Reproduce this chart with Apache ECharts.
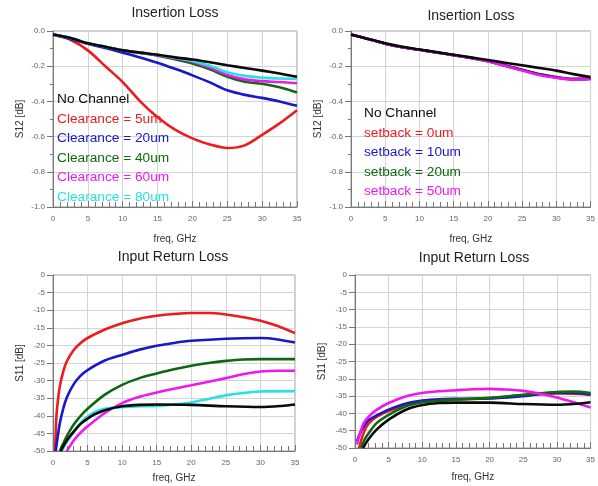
<!DOCTYPE html>
<html>
<head>
<meta charset="utf-8">
<script src="https://cdn.jsdelivr.net/npm/echarts@6/dist/echarts.min.js"></script>
<style>
    html, body { margin: 0; padding: 0; background: #fff; }
    #mychart { width: 598px; height: 486px; }
</style>
</head>
<body>
<div id="mychart"></div>
<script>
// insertion loss, S12 [dB], same freq points for every curve
var IL_FREQ = [0, 2.5, 5, 7.5, 10, 12.5, 15, 17.5, 20, 22.5, 25, 27.5, 30, 32.5, 35]

var il1_noChannel = [-0.02, -0.04, -0.07, -0.09, -0.11, -0.123, -0.135, -0.15, -0.162, -0.178, -0.195, -0.21, -0.225, -0.242, -0.26]
var il1_c5 = [-0.02, -0.05, -0.11, -0.2, -0.29, -0.4, -0.49, -0.56, -0.61, -0.645, -0.665, -0.65, -0.59, -0.525, -0.45]
var il1_c20 = [-0.02, -0.045, -0.073, -0.097, -0.123, -0.15, -0.18, -0.215, -0.252, -0.292, -0.337, -0.363, -0.38, -0.4, -0.425]
var il1_c40 = [-0.02, -0.04, -0.07, -0.09, -0.11, -0.125, -0.14, -0.16, -0.185, -0.218, -0.26, -0.288, -0.3, -0.32, -0.35]
var il1_c60 = [-0.02, -0.04, -0.07, -0.09, -0.11, -0.123, -0.137, -0.155, -0.175, -0.208, -0.25, -0.275, -0.285, -0.29, -0.297]
var il1_c80 = [-0.02, -0.04, -0.07, -0.09, -0.11, -0.123, -0.135, -0.152, -0.17, -0.198, -0.235, -0.255, -0.265, -0.27, -0.272]

var il2_noChannel = [-0.02, -0.045, -0.07, -0.09, -0.105, -0.12, -0.135, -0.15, -0.165, -0.18, -0.195, -0.21, -0.225, -0.245, -0.262]
var il2_s0 = [-0.02, -0.045, -0.072, -0.092, -0.107, -0.122, -0.137, -0.152, -0.17, -0.195, -0.22, -0.245, -0.262, -0.272, -0.27]
var il2_s10 = [-0.02, -0.045, -0.072, -0.092, -0.107, -0.122, -0.137, -0.153, -0.172, -0.197, -0.222, -0.247, -0.264, -0.274, -0.272]
var il2_s20 = [-0.02, -0.045, -0.072, -0.092, -0.107, -0.122, -0.137, -0.152, -0.171, -0.196, -0.221, -0.246, -0.263, -0.273, -0.271]
var il2_s50 = [-0.02, -0.045, -0.072, -0.092, -0.107, -0.122, -0.137, -0.153, -0.172, -0.198, -0.224, -0.25, -0.266, -0.276, -0.273]

// input return loss, S11 [dB], [freq, dB] (curves start where they enter the -50 dB floor)
var rl1_noChannel = [[1.1, -50], [2, -47], [3, -44.5], [4, -42.3], [5, -40.8], [6, -39.6], [7.5, -38.4], [10, -37.3], [12.5, -36.9], [15, -36.8], [20, -36.9], [25, -37.3], [30, -37.5], [33, -37.2], [35, -36.8]]
var rl1_c5 = [[0.3, -50], [0.5, -40], [0.75, -35], [1, -31.5], [1.5, -27.3], [2, -24.5], [3, -21.3], [4, -19.3], [5, -17.9], [7.5, -15.5], [10, -13.7], [12.5, -12.4], [15, -11.6], [17.5, -11.1], [20, -10.8], [22.5, -10.8], [25, -11.2], [27.5, -12], [30, -13], [32.5, -14.5], [35, -16.5]]
var rl1_c20 = [[0.4, -50], [0.6, -47], [1, -42], [1.5, -37.8], [2, -34.8], [3, -31], [4, -28.6], [5, -27], [7.5, -24.3], [10, -22.7], [12.5, -21.2], [15, -20.1], [17.5, -19.3], [20, -18.7], [25, -18.1], [30, -17.9], [32.5, -18.3], [35, -19.2]]
var rl1_c40 = [[1, -50], [1.5, -47.8], [2, -45.8], [3, -42.5], [4, -40], [5, -38], [7.5, -34], [10, -31.2], [12.5, -29.3], [15, -28], [17.5, -26.8], [20, -25.8], [22.5, -25], [25, -24.4], [27.5, -24], [30, -23.9], [35, -23.9]]
var rl1_c60 = [[2, -50], [3, -47], [4, -44.8], [5, -43], [7.5, -39.2], [10, -36.4], [12.5, -34.6], [15, -33.4], [17.5, -32.3], [20, -31.3], [22.5, -30.3], [25, -29.3], [27.5, -28.2], [30, -27.4], [32.5, -27.2], [35, -27.2]]
var rl1_c80 = [[1.3, -50], [2, -47.5], [3, -44.5], [4, -42], [5, -40.2], [6, -39], [7.5, -38], [10, -37.5], [12.5, -37.3], [15, -37.2], [17.5, -36.8], [20, -36.2], [22.5, -35.2], [25, -34.2], [27.5, -33.5], [30, -33.1], [35, -33]]

var rl2_noChannel = [[1.2, -50], [2, -47.5], [3.2, -44.7], [5, -41.8], [7.5, -39], [10, -37.6], [12.5, -37], [15, -36.9], [20, -36.9], [25, -37.3], [30, -37.5], [33, -37.2], [35, -36.8]]
var rl2_s0 = [[0.6, -50], [1.3, -45.5], [2, -43], [3.2, -41], [5, -39.3], [7.5, -37.6], [10, -36.6], [12.5, -36.2], [15, -36], [20, -35.6], [25, -34.8], [30, -34.2], [35, -34.5]]
var rl2_s10 = [[0.3, -48], [0.7, -46], [1.3, -43.8], [2, -42], [3.2, -40.6], [5, -38.9], [7.5, -37.2], [10, -36.3], [12.5, -35.9], [15, -35.8], [20, -35.7], [25, -35], [30, -34], [32.5, -34], [35, -34.6]]
var rl2_s20 = [[0.9, -50], [1.5, -47.3], [2, -45.8], [3.2, -42.8], [5, -40.4], [7.5, -38], [10, -36.8], [12.5, -36.3], [15, -36], [20, -35.5], [25, -34.6], [30, -33.8], [32.5, -33.7], [35, -34.1]]
var rl2_s50 = [[0.3, -49], [0.7, -46], [1.3, -42.8], [2, -41], [3.2, -39], [5, -37], [7.5, -35.1], [10, -34.1], [12.5, -33.6], [15, -33.3], [17.5, -33], [20, -32.9], [22.5, -33.1], [25, -33.5], [27.5, -34.3], [30, -35.4], [32.5, -36.8], [35, -38.3]]

var CLEARANCE_NAMES = ['No Channel', 'Clearance = 5um', 'Clearance = 20um', 'Clearance = 40um', 'Clearance = 60um', 'Clearance = 80um']
var SETBACK_NAMES = ['No Channel', 'setback = 0um', 'setback = 10um', 'setback = 20um', 'setback = 50um']

var C_BLACK = '#0a0a0a'
var C_RED = '#ec1c1c'
var C_BLUE = '#1818c8'
var C_GREEN = '#0f680f'
var C_MAGENTA = '#ee18ee'
var C_CYAN = '#26e2e2'

var FONT = 'Arial, "Liberation Sans", sans-serif'

function pairs(xs, ys) {
    var out = []
    for (var i = 0; i < xs.length; i++) {
        out.push([xs[i], ys[i]])
    }
    return out
}

function line(name, color, data, idx) {
    return {
        name: name,
        type: 'line',
        xAxisIndex: idx,
        yAxisIndex: idx,
        data: data,
        smooth: 0.3,
        symbol: 'none',
        lineStyle: { color: color, width: 2.6 },
        itemStyle: { color: color },
        emphasis: { disabled: true },
    }
}

var grids = [
    { left: 53, top: 31, width: 244, height: 176 },
    { left: 351, top: 31, width: 240, height: 176 },
    { left: 53, top: 275, width: 242, height: 176 },
    { left: 355, top: 275, width: 239, height: 173 },
]

function xAxis(idx, gap) {
    return {
        type: 'value',
        gridIndex: idx,
        min: 0,
        max: 35,
        interval: 5,
        name: 'freq, GHz',
        nameLocation: 'middle',
        nameGap: gap,
        nameTextStyle: { fontFamily: FONT, fontSize: 10, color: '#333' },
        axisLine: { onZero: false, lineStyle: { color: '#777' } },
        axisTick: { inside: true, length: 6, lineStyle: { color: '#777' } },
        minorTick: { show: true, splitNumber: 5, length: 5, lineStyle: { color: '#777' } },
        axisLabel: { fontFamily: FONT, fontSize: 8, color: '#666', margin: 8 },
        splitLine: { show: true, lineStyle: { color: '#d4d4d4' } },
    }
}

function yAxis(idx, name, min, step, digits) {
    return {
        type: 'value',
        gridIndex: idx,
        min: min,
        max: 0,
        interval: step,
        name: name,
        nameLocation: 'middle',
        nameGap: 28,
        nameTextStyle: { fontFamily: FONT, fontSize: 10, color: '#333' },
        axisLine: { show: true, onZero: false, lineStyle: { color: '#777' } },
        axisTick: { show: true, length: 6, lineStyle: { color: '#777' } },
        minorTick: { show: digits > 0, splitNumber: 2, length: 3, lineStyle: { color: '#777' } },
        axisLabel: {
            fontFamily: FONT, fontSize: 8, color: '#666', margin: 8,
            formatter: function (v) { return v.toFixed(digits) }
        },
        splitLine: { show: true, lineStyle: { color: '#d4d4d4' } },
    }
}

function legendData(names, colors) {
    var d = []
    for (var i = 0; i < names.length; i++) {
        d.push({ name: names[i], textStyle: { color: colors[i] } })
    }
    return d
}

function title(text, x, y) {
    return {
        text: text,
        left: x,
        top: y,
        textAlign: 'center',
        padding: 0,
        textStyle: { fontFamily: FONT, fontSize: 14, fontWeight: 'normal', color: '#222' },
    }
}

var series = [
    line(CLEARANCE_NAMES[1], C_RED, pairs(IL_FREQ, il1_c5), 0),
    line(CLEARANCE_NAMES[2], C_BLUE, pairs(IL_FREQ, il1_c20), 0),
    line(CLEARANCE_NAMES[3], C_GREEN, pairs(IL_FREQ, il1_c40), 0),
    line(CLEARANCE_NAMES[4], C_MAGENTA, pairs(IL_FREQ, il1_c60), 0),
    line(CLEARANCE_NAMES[5], C_CYAN, pairs(IL_FREQ, il1_c80), 0),
    line(CLEARANCE_NAMES[0], C_BLACK, pairs(IL_FREQ, il1_noChannel), 0),

    line(SETBACK_NAMES[1], C_RED, pairs(IL_FREQ, il2_s0), 1),
    line(SETBACK_NAMES[3], C_GREEN, pairs(IL_FREQ, il2_s20), 1),
    line(SETBACK_NAMES[2], C_BLUE, pairs(IL_FREQ, il2_s10), 1),
    line(SETBACK_NAMES[4], C_MAGENTA, pairs(IL_FREQ, il2_s50), 1),
    line(SETBACK_NAMES[0], C_BLACK, pairs(IL_FREQ, il2_noChannel), 1),

    line(CLEARANCE_NAMES[1], C_RED, rl1_c5, 2),
    line(CLEARANCE_NAMES[2], C_BLUE, rl1_c20, 2),
    line(CLEARANCE_NAMES[3], C_GREEN, rl1_c40, 2),
    line(CLEARANCE_NAMES[4], C_MAGENTA, rl1_c60, 2),
    line(CLEARANCE_NAMES[5], C_CYAN, rl1_c80, 2),
    line(CLEARANCE_NAMES[0], C_BLACK, rl1_noChannel, 2),

    line(SETBACK_NAMES[1], C_RED, rl2_s0, 3),
    line(SETBACK_NAMES[2], C_BLUE, rl2_s10, 3),
    line(SETBACK_NAMES[3], C_GREEN, rl2_s20, 3),
    line(SETBACK_NAMES[4], C_MAGENTA, rl2_s50, 3),
    line(SETBACK_NAMES[0], C_BLACK, rl2_noChannel, 3),
]

var option = {
    backgroundColor: '#fff',
    animation: false,
    title: [
        title('Insertion Loss', 175, 6),
        title('Insertion Loss', 471, 9),
        title('Input Return Loss', 173, 250),
        title('Input Return Loss', 474, 251),
    ],
    legend: [
        {
            orient: 'vertical', left: 52, top: 92, padding: 0,
            itemGap: 5, itemWidth: 0, itemHeight: 15, icon: 'none',
            textStyle: { fontFamily: FONT, fontSize: 13.7 },
            data: legendData(CLEARANCE_NAMES, [C_BLACK, C_RED, C_BLUE, C_GREEN, C_MAGENTA, C_CYAN]),
        },
        {
            orient: 'vertical', left: 359, top: 106, padding: 0,
            itemGap: 5, itemWidth: 0, itemHeight: 15, icon: 'none',
            textStyle: { fontFamily: FONT, fontSize: 13.7 },
            data: legendData(SETBACK_NAMES, [C_BLACK, C_RED, C_BLUE, C_GREEN, C_MAGENTA]),
        },
    ],
    grid: grids.map(function (g) {
        return { left: g.left, top: g.top, width: g.width, height: g.height, show: true, borderColor: '#999', borderWidth: 1, backgroundColor: 'transparent' }
    }),
    xAxis: [xAxis(0, 27), xAxis(1, 27), xAxis(2, 22), xAxis(3, 24)],
    yAxis: [
        yAxis(0, 'S12 [dB]', -1, 0.2, 1),
        yAxis(1, 'S12 [dB]', -1, 0.2, 1),
        yAxis(2, 'S11 [dB]', -50, 5, 0),
        yAxis(3, 'S11 [dB]', -50, 5, 0),
    ],
    series: series,
}

var myChart = echarts.init(document.getElementById('mychart'))
myChart.setOption(option)
</script>
</body>
</html>
